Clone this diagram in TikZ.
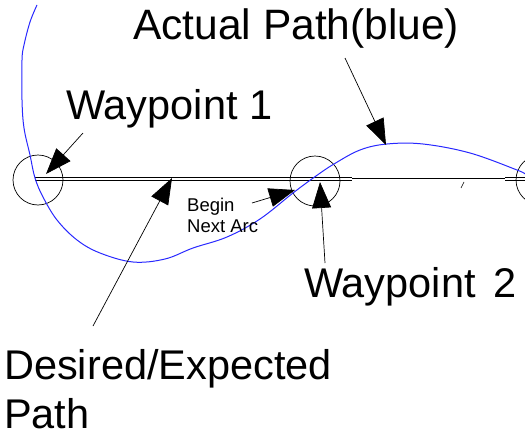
\documentclass[tikz,border=0pt]{standalone}
\usepackage{fontspec}
\setmainfont{Liberation Sans}
\usetikzlibrary{arrows.meta}
\definecolor{pathblue}{RGB}{40,40,255}
\tikzset{
  lbl/.style={inner sep=0pt, font=\fontsize{41.5}{49}\selectfont},
  small/.style={inner sep=0pt, align=left, font=\fontsize{18.5}{21}\selectfont},
  wpt/.style={draw, circle, minimum size=50pt, inner sep=0pt, line width=0.7pt},
  pointer/.style={-{Triangle[length=26pt,width=19pt]}, line width=0.7pt},
  desired/.style={line width=0.7pt, black},
  actual/.style={pathblue, line width=1pt}
}
\begin{document}
\begin{tikzpicture}[x=1pt, y=-1pt]
\useasboundingbox (0,0) rectangle (525,431);

% waypoint markers
\node[wpt] (wp1) at (38,180) {};
\node[wpt] (wp2) at (315,181) {};
\node[wpt] (wp3) at (541,180) {};

% desired / expected straight-line path (double rule between waypoints)
\coordinate (d0) at (35,178.5);
\coordinate (d1) at (352,178.5);
\coordinate (d2) at (505,178.5);
\coordinate (d3) at (525,178.5);
\draw[desired] ([yshift=1.6pt]d0) -- ([yshift=1.6pt]d1);
\draw[desired] ([yshift=-1.6pt]d0) -- ([yshift=-1.6pt]d1);
\draw[desired] (d1) -- (d2);
\draw[desired] ([yshift=1.6pt]d2) -- ([yshift=1.6pt]d3);
\draw[desired] ([yshift=-1.6pt]d2) -- ([yshift=-1.6pt]d3);
\draw[line width=0.6pt] (461,188) -- (464,182);

% actual flown path
\draw[actual] plot[smooth, tension=0.6] coordinates {
  (37,5) (30,22) (24,45) (22,60) (22,100) (24,128) (30,155) (35,178)
  (43,197) (57,220) (77,240) (100,253) (133,262) (165,259) (193,248)
  (227,237) (260,219) (293,193) (316,176) (334,164) (360,150) (387,144)
  (423,144) (470,153) (517,170) (525,174)};

% labels
\node[lbl, anchor=base west, font=\fontsize{42.5}{49}\selectfont] (title) at (133,39) {Actual Path(blue)};
\node[lbl, anchor=base west] (lab1) at (66,119) {Waypoint 1};
\node[lbl, anchor=base west] (lab2) at (304,297) {Waypoint\hspace{18pt}2};
\node[lbl, anchor=north west, align=left] (labd) at (4,349) {Desired/Expected\\Path};
\node[small, anchor=north west] (labb) at (187,198) {Begin\\Next Arc};

% pointer arrows
\coordinate (t1) at (83,133);   \coordinate (h1) at (46,174);
\coordinate (t2) at (345,58);   \coordinate (h2) at (386,145);
\coordinate (t3) at (93,326);   \coordinate (h3) at (172,178);
\coordinate (t4) at (252,203);  \coordinate (h4) at (295,190);
\coordinate (t5) at (325,263);  \coordinate (h5) at (320,182);
\draw[pointer] (t1) -- (h1);
\draw[pointer] (t2) -- (h2);
\draw[pointer] (t3) -- (h3);
\draw[pointer] (t4) -- (h4);
\draw[pointer] (t5) -- (h5);
\end{tikzpicture}
\end{document}
